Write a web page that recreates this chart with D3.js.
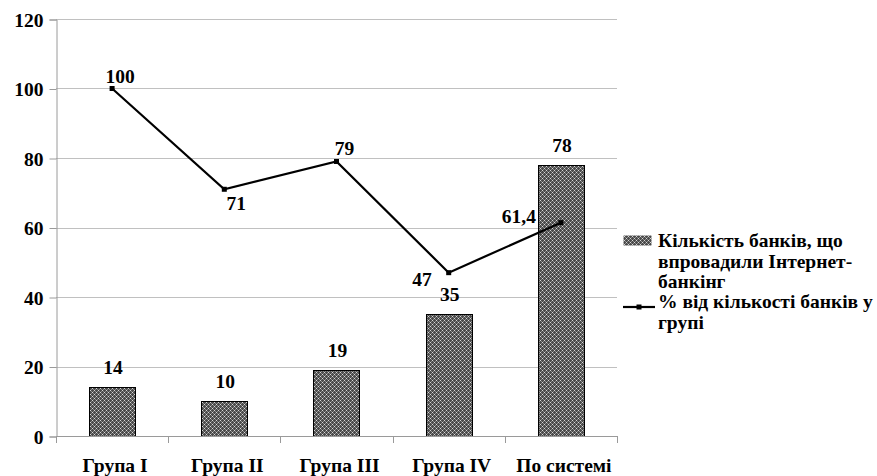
<!DOCTYPE html>
<html lang="uk">
<head>
  <meta charset="UTF-8">
  <title>Інтернет-банкінг за групами банків</title>
  <script src="https://cdnjs.cloudflare.com/ajax/libs/d3/7.8.5/d3.min.js"></script>
  <style>
    * { margin: 0; padding: 0; box-sizing: border-box; }
    body { background: #ffffff; width: 877px; height: 476px; overflow: hidden; }
    .grid line { stroke: #c0c0c0; stroke-width: 1; }
    .axis-line { stroke: #9a9a9a; stroke-width: 1; }
  </style>
</head>
<body>
<div id="chart"></div>

<script>
  // chart data
  const categories = ["Група I", "Група II", "Група III", "Група IV", "По системі"];
  const bankCounts = [14, 10, 19, 35, 78];
  const bankShares = [100, 71, 79, 47, 61.4];
  const shareLabels = ["100", "71", "79", "47", "61,4"];
  const sharePlacement = ["above", "below", "above", "leftBelow", "left"];
  const yTicks = [0, 20, 40, 60, 80, 100, 120];
  const legendBar = ["Кількість банків, що", "впровадили Інтернет-", "банкінг"];
  const legendLine = ["% від кількості банків у", "групі"];

  const width = 877;
  const height = 476;
  const plot = {left: 56, right: 617, top: 19, bottom: 436};
  const fontSize = 19.5;
  const fontFamily = "'Liberation Serif', 'Times New Roman', serif";

  const svg = d3.select("#chart")
          .append("svg")
          .attr("width", width)
          .attr("height", height);

  // applies the label font to a text selection
  const txt = sel => sel
          .style("font-family", fontFamily)
          .style("font-weight", "bold")
          .style("font-size", fontSize + "px")
          .attr("fill", "#000");

  // pattern fill for the bars
  const defs = svg.append("defs");
  const pat = defs.append("pattern")
          .attr("id", "dots")
          .attr("width", 4)
          .attr("height", 4)
          .attr("patternUnits", "userSpaceOnUse");
  pat.append("rect").attr("width", 4).attr("height", 4).attr("fill", "#4a4a4a");
  pat.append("rect").attr("x", 0).attr("y", 0).attr("width", 1).attr("height", 1).attr("fill", "#d8d8d8");
  pat.append("rect").attr("x", 2).attr("y", 2).attr("width", 1).attr("height", 1).attr("fill", "#d8d8d8");
  pat.append("rect").attr("x", 1).attr("y", 1).attr("width", 1).attr("height", 1).attr("fill", "#8a8a8a");
  pat.append("rect").attr("x", 3).attr("y", 3).attr("width", 1).attr("height", 1).attr("fill", "#8a8a8a");
  pat.append("rect").attr("x", 3).attr("y", 1).attr("width", 1).attr("height", 1).attr("fill", "#8a8a8a");
  pat.append("rect").attr("x", 1).attr("y", 3).attr("width", 1).attr("height", 1).attr("fill", "#8a8a8a");

  // scales
  const x = d3.scaleBand()
          .domain(categories)
          .range([plot.left, plot.right]);

  const y = d3.scaleLinear()
          .domain([0, 120])
          .range([plot.bottom, plot.top]);

  const barWidth = x.bandwidth() * 0.41;
  const cx = d => x(d) + x.bandwidth() / 2;

  // gridlines
  svg.append("g")
          .attr("class", "grid")
          .selectAll("line")
          .data(yTicks.filter(t => t > 0))
          .enter()
          .append("line")
          .attr("x1", plot.left)
          .attr("x2", plot.right)
          .attr("y1", d => Math.round(y(d)) + 0.5)
          .attr("y2", d => Math.round(y(d)) + 0.5);

  // y axis
  const yAxis = svg.append("g")
          .attr("transform", `translate(${plot.left + 0.5},0.5)`)
          .call(d3.axisLeft(y).tickValues(yTicks).tickSize(7).tickPadding(6).tickFormat(d3.format("d")));
  yAxis.attr("font-family", null).attr("font-size", null);
  yAxis.selectAll("path, line").attr("stroke", "#9a9a9a");
  yAxis.selectAll("text")
          .call(txt)
          .attr("dy", "0.34em");

  // bars
  svg.append("g")
          .selectAll("rect")
          .data(bankCounts)
          .enter()
          .append("rect")
          .attr("x", (d, i) => Math.round(cx(categories[i]) - barWidth / 2) + 0.5)
          .attr("y", d => Math.round(y(d)) + 0.5)
          .attr("width", Math.round(barWidth))
          .attr("height", d => Math.round(y(0)) - Math.round(y(d)))
          .attr("fill", "url(#dots)")
          .attr("stroke", "#000")
          .attr("stroke-width", 1);

  // x axis
  svg.append("line")
          .attr("class", "axis-line")
          .attr("x1", plot.left)
          .attr("x2", plot.right)
          .attr("y1", Math.round(y(0)) + 0.5)
          .attr("y2", Math.round(y(0)) + 0.5);

  const bounds = categories.map(c => x(c)).concat([plot.right]);
  svg.append("g")
          .selectAll("line")
          .data(bounds)
          .enter()
          .append("line")
          .attr("class", "axis-line")
          .attr("x1", d => Math.round(d) + 0.5)
          .attr("x2", d => Math.round(d) + 0.5)
          .attr("y1", Math.round(y(0)))
          .attr("y2", Math.round(y(0)) + 7);

  svg.append("g")
          .selectAll("text")
          .data(categories)
          .enter()
          .append("text")
          .call(txt)
          .attr("x", d => cx(d) + 3)
          .attr("y", 472)
          .attr("text-anchor", "middle")
          .text(d => d);

  // bar value labels
  svg.append("g")
          .selectAll("text")
          .data(bankCounts)
          .enter()
          .append("text")
          .call(txt)
          .attr("x", (d, i) => cx(categories[i]) + 1)
          .attr("y", d => y(d) - 13)
          .attr("text-anchor", "middle")
          .text(d => d);

  // percentage line
  const line = d3.line()
          .x((d, i) => cx(categories[i]))
          .y(d => y(d));

  svg.append("path")
          .datum(bankShares)
          .attr("d", line)
          .attr("fill", "none")
          .attr("stroke", "#000")
          .attr("stroke-width", 2.2);

  svg.append("g")
          .selectAll("rect")
          .data(bankShares)
          .enter()
          .append("rect")
          .attr("x", (d, i) => cx(categories[i]) - 2.5)
          .attr("y", d => y(d) - 2.5)
          .attr("width", 5)
          .attr("height", 5)
          .attr("fill", "#000");

  const labelOffset = {
    above: {dx: 8, dy: -6, anchor: "middle"},
    below: {dx: 12, dy: 21, anchor: "middle"},
    leftBelow: {dx: -17, dy: 13, anchor: "end"},
    left: {dx: -25, dy: 0, anchor: "end"}
  };

  svg.append("g")
          .selectAll("text")
          .data(bankShares)
          .enter()
          .append("text")
          .call(txt)
          .attr("x", (d, i) => cx(categories[i]) + labelOffset[sharePlacement[i]].dx)
          .attr("y", (d, i) => y(d) + labelOffset[sharePlacement[i]].dy)
          .attr("text-anchor", (d, i) => labelOffset[sharePlacement[i]].anchor)
          .text((d, i) => shareLabels[i]);

  // legend
  const legend = svg.append("g");
  legend.append("rect")
          .attr("x", 623.5)
          .attr("y", 235.5)
          .attr("width", 28)
          .attr("height", 10)
          .attr("fill", "url(#dots)");

  legend.append("text")
          .call(txt)
          .attr("x", 658)
          .attr("y", 247)
          .selectAll("tspan")
          .data(legendBar)
          .enter()
          .append("tspan")
          .attr("x", 658)
          .attr("dy", (d, i) => i === 0 ? 0 : 20.5)
          .text(d => d);

  legend.append("line")
          .attr("x1", 623)
          .attr("x2", 655)
          .attr("y1", 307)
          .attr("y2", 307)
          .attr("stroke", "#000")
          .attr("stroke-width", 2.2);
  legend.append("rect")
          .attr("x", 636.5)
          .attr("y", 304.5)
          .attr("width", 5)
          .attr("height", 5)
          .attr("fill", "#000");

  legend.append("text")
          .call(txt)
          .attr("x", 658)
          .attr("y", 308)
          .selectAll("tspan")
          .data(legendLine)
          .enter()
          .append("tspan")
          .attr("x", 658)
          .attr("dy", (d, i) => i === 0 ? 0 : 20.5)
          .text(d => d);
</script>
</body>
</html>
